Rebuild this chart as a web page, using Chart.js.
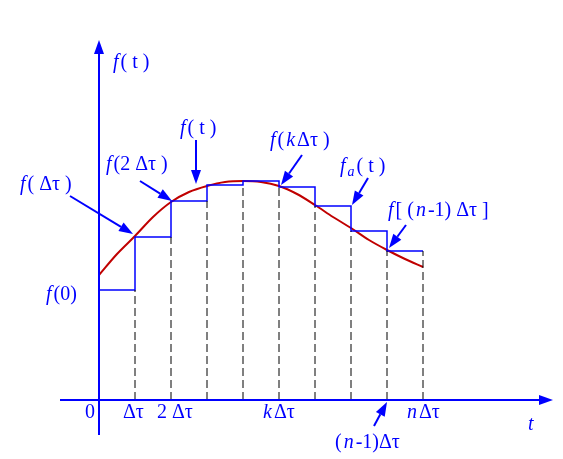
<!DOCTYPE html>
<html>
<head>
<meta charset="utf-8">
<script src="https://cdn.jsdelivr.net/npm/chart.js@4"></script>
<style>
  html, body { margin: 0; padding: 0; background: #fff; }
  #wrap { width: 563px; height: 459px; }
</style>
</head>
<body>
<div id="wrap"><canvas id="grafico"></canvas></div>
<script>
// x in units of Δτ, y in arbitrary units
const passos = [0, 1, 2, 3, 4, 5, 6, 7, 8, 9];
const degraus = [11.0, 16.3, 19.9, 21.5, 21.9, 21.3, 19.4, 16.9, 14.9];
const curvaX = [0, 0.5, 1, 1.5, 2, 2.5, 3, 3.5, 4, 4.5, 5, 5.5, 6, 6.5, 7, 7.5, 8, 8.5, 9];
const curvaY = [12.5, 14.6, 16.4, 18.3, 19.8, 20.8, 21.4, 21.8, 21.9, 21.8, 21.4, 20.6, 19.5, 18.3, 17.2, 16.0, 15.0, 14.1, 13.3];

const AZUL = "#0000ff";

// escada: cada degrau de i a i+1
const escada = [];
degraus.forEach((v, i) => { escada.push({ x: passos[i], y: v }); escada.push({ x: passos[i + 1], y: v }); });

// tracejados verticais do eixo até o degrau menor
const tracejados = [];
for (let i = 1; i < passos.length; i++) {
    const topo = i < degraus.length ? Math.min(degraus[i - 1], degraus[i]) : degraus[i - 1];
    tracejados.push({ x: passos[i], y: 0 }, { x: passos[i], y: topo }, { x: NaN, y: NaN });
}

function seta(ctx, x1, y1, x2, y2) {
    const a = Math.atan2(y2 - y1, x2 - x1), L = 14, W = 5;
    ctx.strokeStyle = AZUL; ctx.fillStyle = AZUL; ctx.lineWidth = 2;
    ctx.beginPath(); ctx.moveTo(x1, y1);
    ctx.lineTo(x2 - L * Math.cos(a), y2 - L * Math.sin(a)); ctx.stroke();
    ctx.beginPath(); ctx.moveTo(x2, y2);
    ctx.lineTo(x2 - L * Math.cos(a) + W * Math.sin(a), y2 - L * Math.sin(a) - W * Math.cos(a));
    ctx.lineTo(x2 - L * Math.cos(a) - W * Math.sin(a), y2 - L * Math.sin(a) + W * Math.cos(a));
    ctx.closePath(); ctx.fill();
}

// texto com partes itálicas: [["f", true], ["(t)", false]]
function texto(ctx, partes, x, y, tam) {
    ctx.textBaseline = "alphabetic"; ctx.textAlign = "left"; ctx.fillStyle = AZUL;
    partes.forEach(([t, it, sub]) => {
        const s = sub ? tam * 0.7 : tam;
        ctx.font = (it ? "italic " : "") + s + "px 'Liberation Serif', serif";
        ctx.fillText(t, x, y + (sub ? 4 : 0));
        x += ctx.measureText(t).width + 2;
    });
}

const desenho = {
    id: "desenho",
    afterDatasetsDraw(chart) {
        const ctx = chart.ctx;
        const X = chart.scales.x, Y = chart.scales.y;
        const ox = X.getPixelForValue(0), oy = Y.getPixelForValue(0);
        ctx.save();
        // eixos
        ctx.strokeStyle = AZUL; ctx.lineWidth = 2;
        ctx.beginPath(); ctx.moveTo(ox, 435); ctx.lineTo(ox, 50); ctx.stroke();
        ctx.beginPath(); ctx.moveTo(60, oy); ctx.lineTo(540, oy); ctx.stroke();
        seta(ctx, ox, 60, ox, 40);
        seta(ctx, 530, oy, 553, oy);
        // setas
        seta(ctx, 70, 196, 133, 234);
        seta(ctx, 140, 181, 172, 201);
        seta(ctx, 196, 140, 196, 184);
        seta(ctx, 302, 155, 281, 185);
        seta(ctx, 368, 178, 352, 205);
        seta(ctx, 406, 225, 389, 248);
        seta(ctx, 374, 426, 387, 402);
        // rótulos
        const F = 20;
        texto(ctx, [["f", true], ["( t )", false]], 113, 68, F);
        texto(ctx, [["f", true], ["(0)", false]], 46, 300, F);
        texto(ctx, [["f", true], ["( Δτ )", false]], 20, 190, F);
        texto(ctx, [["f", true], ["(2 Δτ )", false]], 106, 170, F);
        texto(ctx, [["f", true], ["( t )", false]], 180, 134, F);
        texto(ctx, [["f", true], ["(", false], ["k", true], ["Δτ )", false]], 270, 146, F);
        texto(ctx, [["f", true], ["a", true, true], ["( t )", false]], 340, 172, F);
        texto(ctx, [["f", true], ["[ (", false], ["n", true], ["-1) Δτ ]", false]], 388, 216, F);
        texto(ctx, [["0", false]], 85, 418, F);
        texto(ctx, [["Δτ", false]], 123, 418, F);
        texto(ctx, [["2 Δτ", false]], 157, 418, F);
        texto(ctx, [["k", true], ["Δτ", false]], 263, 418, F);
        texto(ctx, [["n", true], ["Δτ", false]], 407, 418, F);
        texto(ctx, [["t", true]], 528, 430, F);
        texto(ctx, [["(", false], ["n", true], ["-1)Δτ", false]], 335, 448, F);
        ctx.restore();
    }
};

new Chart(document.getElementById("grafico"), {
    type: "scatter",
    data: {
        datasets: [
            { data: tracejados, showLine: true, borderColor: "#000", borderWidth: 1, borderDash: [8, 4], pointRadius: 0, spanGaps: false },
            { data: escada, showLine: true, borderColor: AZUL, borderWidth: 1.5, pointRadius: 0 },
            { data: curvaX.map((x, i) => ({ x, y: curvaY[i] })), showLine: true, borderColor: "#c00000", borderWidth: 2, pointRadius: 0, tension: 0.4, cubicInterpolationMode: "monotone" },
        ],
    },
    options: {
        responsive: true,
        maintainAspectRatio: false,
        animation: false,
        layout: { padding: 0 },
        plugins: { legend: { display: false }, tooltip: { enabled: false } },
        scales: {
            x: { type: "linear", display: false, min: -99 / 36, max: (563 - 99) / 36 },
            y: { type: "linear", display: false, min: -5.9, max: 40 },
        },
    },
    plugins: [desenho],
});
</script>
</body>
</html>
